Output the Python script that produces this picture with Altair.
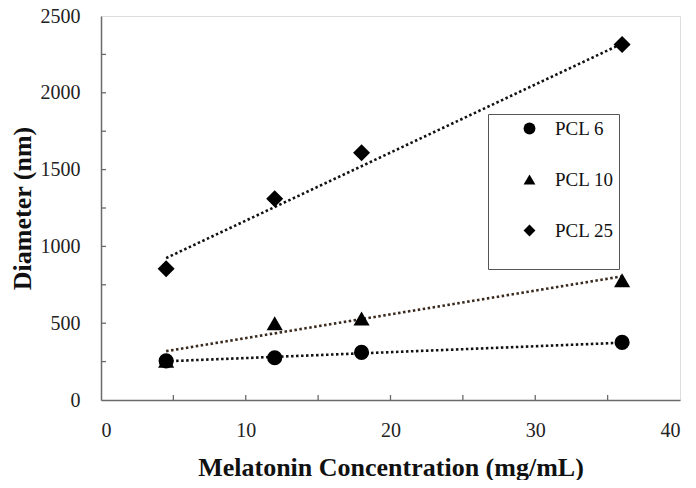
import altair as alt
import pandas as pd

# ---- data ----
conc = [4.5, 12, 18, 36]
pcl6 = [255, 275, 310, 375]
pcl10 = [255, 500, 530, 780]
pcl25 = [855, 1310, 1610, 2315]
series_names = ["PCL 6", "PCL 10", "PCL 25"]
shapes = ["circle", "triangle-up", "diamond"]
marker_sizes = [230, 290, 240]
line_colors = ["#111111", "#3a2a1e", "#111111"]

# dotted linear trend lines, end points
trend_x = [4.5, 36]
trend_start = [252, 318, 924]
trend_end = [373, 805, 2320]

x_label_values = [0, 10, 20, 30, 40]
y_label_values = [0, 500, 1000, 1500, 2000, 2500]
x_minor_ticks = [5, 10, 15, 20, 25, 30, 35]
y_minor_ticks = [250, 500, 750, 1000, 1250, 1500, 1750, 2000, 2250]

FONT = "Liberation Serif"
FRAME = "#6a6a6a"
W, H = 579, 384

rows = []
for name, vals in zip(series_names, [pcl6, pcl10, pcl25]):
    for c, v in zip(conc, vals):
        rows.append({"conc": c, "d": v, "series": name, "sz": "S " + name})
df = pd.DataFrame(rows)

trows = []
for name, a, b in zip(series_names, trend_start, trend_end):
    trows.append({"conc": trend_x[0], "d": a, "line": "L " + name})
    trows.append({"conc": trend_x[1], "d": b, "line": "L " + name})
tdf = pd.DataFrame(trows)

xscale = alt.Scale(domain=[0, 40], nice=False, zero=False)
yscale = alt.Scale(domain=[0, 2500], nice=False, zero=False)

xaxis = alt.Axis(values=x_label_values, format="d", ticks=False, tickSize=0, grid=False,
                 domainColor=FRAME, domainWidth=1.5, labelFontSize=20, labelFont=FONT,
                 labelColor="#222", labelPadding=20, title="Melatonin Concentration (mg/mL)",
                 titleFont=FONT, titleFontSize=26, titleFontWeight="bold", titleColor="#111",
                 titlePadding=14)
yaxis = alt.Axis(values=y_label_values, format="d", ticks=False, tickSize=0, grid=False,
                 domainColor=FRAME, domainWidth=1.5, labelFontSize=20, labelFont=FONT,
                 labelColor="#222", labelPadding=21, title="Diameter (nm)",
                 titleFont=FONT, titleFontSize=26, titleFontWeight="bold", titleColor="#111",
                 titlePadding=5)

trend = alt.Chart(tdf).mark_line(strokeDash=[2.5, 2.5], strokeWidth=2.6, strokeCap="butt").encode(
    x=alt.X("conc:Q", scale=xscale, axis=xaxis),
    y=alt.Y("d:Q", scale=yscale, axis=yaxis),
    color=alt.Color("line:N", scale=alt.Scale(domain=["L " + s for s in series_names], range=line_colors),
                    legend=None),
)

legend = alt.Legend(
    orient="none", legendX=387, legendY=98, fillColor="white", strokeColor="#555",
    padding=5, symbolOffset=27, labelOffset=16, rowPadding=31,
    labelFont=FONT, labelFontSize=19, labelColor="#111", symbolSize=140,
    symbolFillColor="black", symbolStrokeWidth=0,
    title="\u00a0" * 31, titleOrient="bottom", titleFontSize=19, titleFont=FONT, titlePadding=4,
)

points = alt.Chart(df).mark_point(filled=True, opacity=1, color="black").encode(
    x=alt.X("conc:Q", scale=xscale, axis=xaxis),
    y=alt.Y("d:Q", scale=yscale, axis=yaxis),
    shape=alt.Shape("series:N", scale=alt.Scale(domain=series_names, range=shapes), legend=legend),
    size=alt.Size("sz:N", scale=alt.Scale(domain=["S " + s for s in series_names], range=marker_sizes),
                  legend=None),
)

xt = alt.Chart(pd.DataFrame({"t": x_minor_ticks})).mark_rule(color=FRAME, strokeWidth=1.3).encode(
    x=alt.X("t:Q", scale=xscale, axis=xaxis), y=alt.value(H), y2=alt.value(H - 5)
)
yt = alt.Chart(pd.DataFrame({"t": y_minor_ticks})).mark_rule(color=FRAME, strokeWidth=1.3).encode(
    y=alt.Y("t:Q", scale=yscale, axis=yaxis), x=alt.value(0), x2=alt.value(5)
)

chart = alt.layer(xt, yt, trend, points).properties(
    width=W, height=H,
    autosize=alt.AutoSizeParams(type="none"),
    padding={"left": 93, "top": 8, "right": 8, "bottom": 80},
).configure_view(stroke=FRAME, strokeWidth=1.5).configure_axis(
    labelFont=FONT, titleFont=FONT
).configure_legend(labelFont=FONT, titleFont=FONT).configure(background="white")

chart.save("out.html", embed_options={"renderer": "svg", "actions": False})
